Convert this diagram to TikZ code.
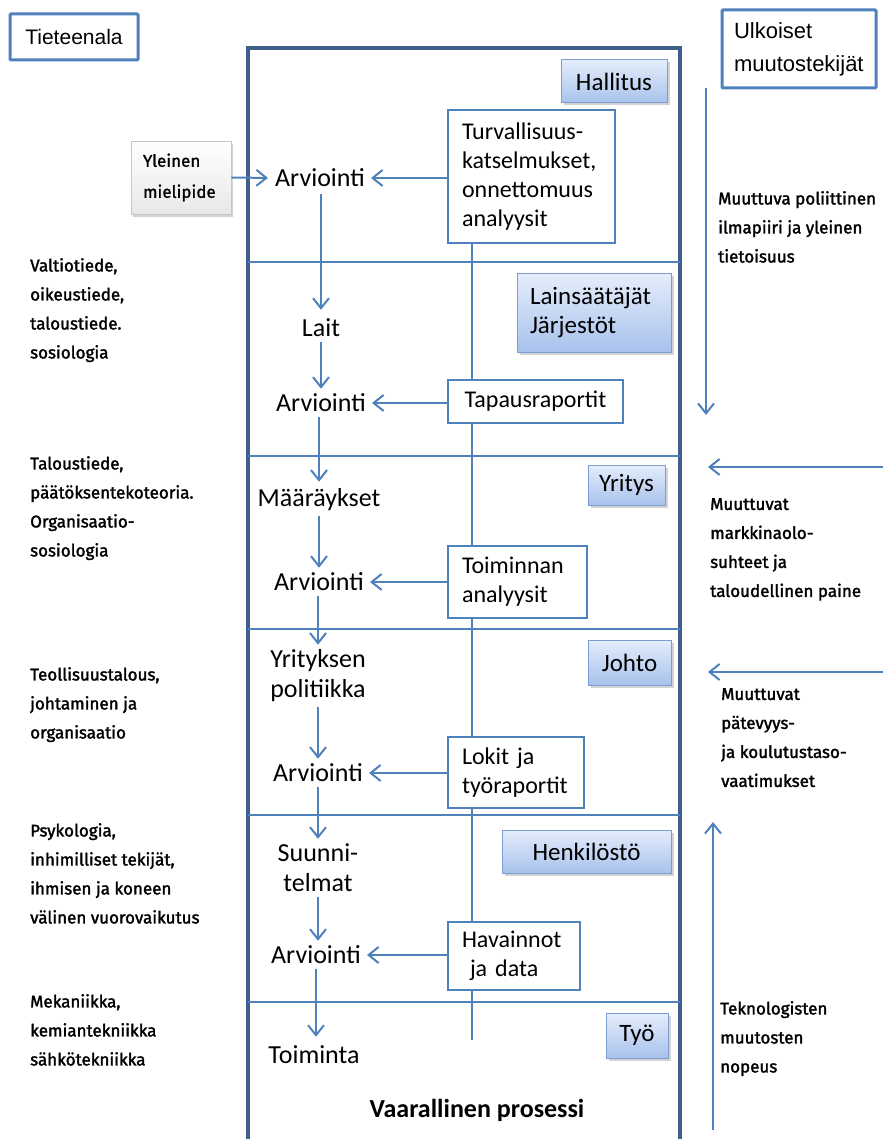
\documentclass[tikz,border=0pt]{standalone}
\usepackage{fontspec}
\setmainfont{Carlito}
\newfontfamily\sidefont[FakeBold=1.8]{Fira Sans}
\newfontfamily\opinfont[FakeBold=1.2]{Fira Sans}
\newfontfamily\arialfont{Liberation Sans}
\usetikzlibrary{arrows.meta,shadows}

\definecolor{frameblue}{HTML}{3C5F8C}
\definecolor{lineblue}{HTML}{4F81BD}
\definecolor{roletop}{HTML}{E4EDFB}
\definecolor{rolebot}{HTML}{A8C2EC}
\definecolor{roleedge}{HTML}{7D9DD2}

\tikzset{
  flow/.style={font=\fontsize{26}{30}\selectfont, inner sep=3pt, align=center},
  arr/.style={draw=lineblue, line width=2pt,
    -{Straight Barb[length=10pt,width=16pt,line width=2pt]}},
  infobox/.style={draw=lineblue, line width=1.3pt, fill=white,
    font=\fontsize{24}{29}\selectfont, inner xsep=14pt, inner ysep=0pt},
  rolebox/.style={draw=roleedge, line width=1pt, top color=roletop, bottom color=rolebot,
    drop shadow={opacity=0.35, shadow xshift=2.5pt, shadow yshift=-2.5pt},
    font=\fontsize{25}{29}\selectfont, inner sep=0pt},
  titlebox/.style={draw=lineblue, line width=3pt, fill=white, rounded corners=1pt,
    font=\arialfont\fontsize{21}{33}\selectfont, inner sep=0pt},
  sidetext/.style={font=\sidefont\fontsize{17}{29}\selectfont, align=left,
    anchor=north west, inner sep=0pt},
}

\begin{document}
\begin{tikzpicture}[x=1pt,y=-1pt]
\useasboundingbox (0,0) rectangle (883,1139);

% process frame and level dividers
\draw[frameblue, line width=3.5pt] (248,1145) -- (248,48) -- (680,48) -- (680,1145);
\foreach \yy in {262,456,629,815,1002}
  \draw[lineblue, line width=2pt] (248,\yy) -- (680,\yy);

% headings
\node[titlebox, minimum width=128pt, minimum height=46pt] (field) at (74,37) {Tieteenala};
\node[titlebox, font=\arialfont\fontsize{22}{33}\selectfont, text width=130pt, inner xsep=12pt,
  minimum height=78pt, align=left] (ext) at (799,49)
  {Ulkoiset\\muutostekijät};

% levels of the organisation
\node[rolebox, minimum width=106pt, minimum height=43pt] (gov) at (614,81.5) {Hallitus};
\node[rolebox, text width=128pt, inner xsep=13pt, minimum height=78pt, align=left] (leg) at (594,313)
  {Lainsäätäjät\\Järjestöt};
\node[rolebox, minimum width=77pt, minimum height=40pt] (comp) at (626.5,485) {Yritys};
\node[rolebox, minimum width=83pt, minimum height=45pt] (mgmt) at (629.5,662.5) {Johto};
\node[rolebox, minimum width=169pt, minimum height=43pt] (staff) at (586.5,851.5) {Henkilöstö};
\node[rolebox, minimum width=62pt, minimum height=45pt] (work) at (637,1035.5) {Työ};

% control chain
\node[flow] (a1) at (320,178) {Arviointi};
\node[flow] (laws) at (321,328) {Lait};
\node[flow] (a2) at (321,403) {Arviointi};
\node[flow] (regs) at (319,500) {Määräykset};
\node[flow] (a3) at (319,582) {Arviointi};
\node[flow] (pol) at (318,676) {Yrityksen\\politiikka};
\node[flow] (a4) at (318,773) {Arviointi};
\node[flow] (plans) at (318,868) {Suunni-\\telmat};
\node[flow] (a5) at (316,955) {Arviointi};
\node[flow] (act) at (314,1055) {Toiminta};

% feedback spine and reports
\node[infobox, text width=139pt, minimum height=133pt, align=left] (rev) at (531.5,176.5)
  {Turvallisuus-\\katselmukset,\\onnettomuus\\analyysit};
\coordinate (spineend) at (472,1040);
\draw[lineblue, line width=2pt] (rev.south -| spineend) -- (spineend);
\node[infobox, text width=147pt, minimum height=43pt, align=center] (cases) at (535.5,401.5)
  {Tapausraportit};
\node[infobox, text width=111pt, minimum height=72pt, align=left] (opan) at (517.5,582)
  {Toiminnan\\analyysit};
\node[infobox, text width=108pt, minimum height=71pt, align=left] (logs) at (516,772.5)
  {Lokit ja\\työraportit};
\node[infobox, text width=104pt, minimum height=68pt, align=left] (obs) at (514,956)
  {Havainnot\\\hspace*{8pt}ja data};

% public opinion
\node[draw=gray!45, line width=0.6pt, top color=white, bottom color=gray!18,
  drop shadow={opacity=0.35, shadow xshift=2pt, shadow yshift=-3pt},
  text width=76pt, inner xsep=12pt, minimum height=73pt, inner ysep=0pt, align=left,
  font=\opinfont\fontsize{17}{31}\selectfont] (opin) at (181,177.5)
  {Yleinen\\mielipide};

% arrows of the control chain
\draw[arr, shorten >=4pt] (opin.east) -- (a1.west);
\draw[arr, shorten >=3pt] (rev.west |- a1) -- (a1.east);
\draw[arr, shorten <=4pt, shorten >=6pt] (laws.north |- a1.south) -- (laws.north);
\draw[arr, shorten <=2pt, shorten >=2pt] (laws.south) -- (a2.north);
\draw[arr, shorten >=3pt] (cases.west |- a2) -- (a2.east);
\draw[arr, shorten <=2pt, shorten >=4pt] (regs.north |- a2.south) -- (regs.north);
\draw[arr, shorten <=2pt, shorten >=2pt] (a3.north |- regs.south) -- (a3.north);
\draw[arr, shorten >=3pt] (opan.west |- a3) -- (a3.east);
\draw[arr, shorten <=2pt, shorten >=2pt] (pol.north |- a3.south) -- (pol.north);
\draw[arr, shorten <=2pt, shorten >=2pt] (pol.south) -- (a4.north -| pol.south);
\draw[arr, shorten >=3pt] (logs.west |- a4) -- (a4.east);
\draw[arr, shorten <=2pt, shorten >=2pt] (plans.north |- a4.south) -- (plans.north);
\draw[arr, shorten <=2pt, shorten >=2pt] (plans.south) -- (a5.north -| plans.south);
\draw[arr, shorten >=3pt] (obs.west |- a5) -- (a5.east);
\draw[arr, shorten <=2pt, shorten >=6pt] (a5.south) -- (a5.south |- act.north);

\node[font=\bfseries\fontsize{26}{30}\selectfont, inner sep=0pt] (haz) at (477,1110)
  {Vaarallinen prosessi};

% scientific disciplines
\node[sidetext] (d1) at (30,258) {Valtiotiede,\\oikeustiede,\\taloustiede.\\sosiologia};
\node[sidetext] (d2) at (30,456) {Taloustiede,\\päätöksentekoteoria.\\Organisaatio-\\sosiologia};
\node[sidetext] (d3) at (30,667) {Teollisuustalous,\\johtaminen ja\\organisaatio};
\node[sidetext] (d4) at (30,823) {Psykologia,\\inhimilliset tekijät,\\ihmisen ja koneen\\välinen vuorovaikutus};
\node[sidetext] (d5) at (30,994) {Mekaniikka,\\kemiantekniikka\\sähkötekniikka};

% external drivers
\coordinate (p1s) at (706,88);   \coordinate (p1e) at (706,415);
\coordinate (p2s) at (883,467);  \coordinate (p2e) at (708,467);
\coordinate (p3s) at (883,672);  \coordinate (p3e) at (708,672);
\coordinate (p4s) at (713,1130); \coordinate (p4e) at (713,822);
\draw[arr] (p1s) -- (p1e);
\draw[arr] (p2s) -- (p2e);
\draw[arr] (p3s) -- (p3e);
\draw[arr] (p4s) -- (p4e);
\node[sidetext] (e1) at (718,191) {Muuttuva poliittinen\\ilmapiiri ja yleinen\\tietoisuus};
\node[sidetext] (e2) at (710,498) {Muuttuvat\\markkinaolo-\\suhteet ja\\taloudellinen paine};
\node[sidetext] (e3) at (721,688) {Muuttuvat\\pätevyys-\\ja koulutustaso-\\vaatimukset};
\node[sidetext] (e4) at (720,1001) {Teknologisten\\muutosten\\nopeus};
\end{tikzpicture}
\end{document}
